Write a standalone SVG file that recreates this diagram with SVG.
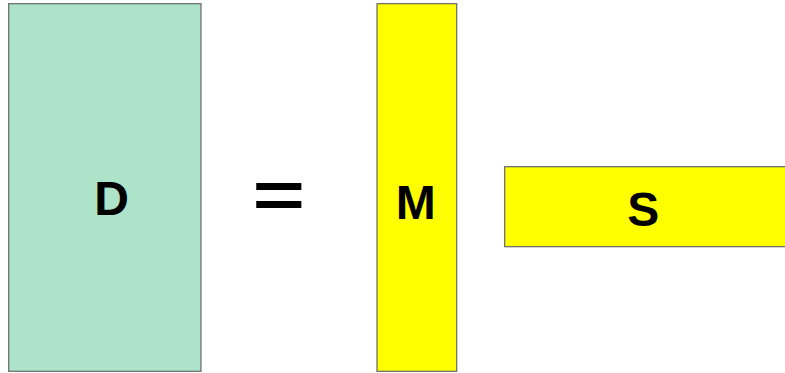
<svg xmlns="http://www.w3.org/2000/svg" width="785" height="373" viewBox="0 0 785 373">
<style>
.box{stroke:#666;stroke-width:1.2}
.t{font-family:"Liberation Sans",Arial,sans-serif;font-weight:bold;font-size:48px;fill:#000;text-anchor:middle}
</style>
<g id="D"><rect class="box" x="8.7" y="3.7" width="192.3" height="367.6" fill="#ade3c9"/><text class="t" x="111.7" y="215">D</text></g>
<g id="eq"><text class="t" x="278.7" y="225" style="font-size:90px" transform="translate(0,195.3) scale(1,0.72) translate(0,-195.3)">=</text></g>
<g id="M"><rect class="box" x="377" y="3.7" width="79.7" height="367.6" fill="#ffff00"/><text class="t" x="415.8" y="219">M</text></g>
<g id="S"><rect class="box" x="504.7" y="166.7" width="290" height="80" fill="#ffff00"/><text class="t" x="643.3" y="226">S</text></g>
<g id="connectors"/>
</svg>
